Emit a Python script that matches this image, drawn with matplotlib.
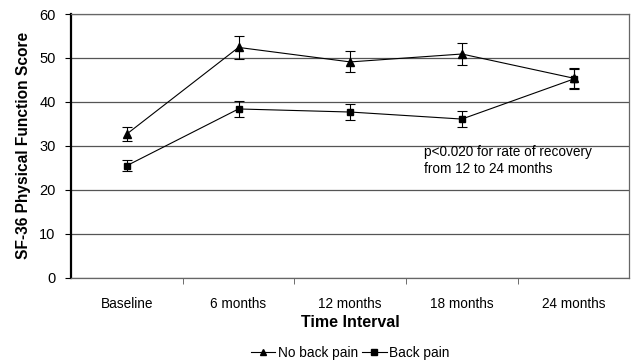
import numpy as np
import matplotlib
matplotlib.use("Agg")
import matplotlib.pyplot as plt
from matplotlib.lines import Line2D

plt.rcParams['font.family'] = ['Liberation Sans', 'DejaVu Sans']

categories = ['Baseline', '6 months', '12 months', '18 months', '24 months']
no_pain = [32.7, 52.4, 49.1, 50.9, 45.4]
no_pain_err = [1.6, 2.6, 2.4, 2.6, 2.3]
pain = [25.5, 38.4, 37.7, 36.1, 45.2]
pain_err = [1.3, 1.9, 1.9, 1.8, 2.2]

fig = plt.figure(figsize=(6.31, 3.64), dpi=100)
ax = fig.add_axes([0.1125, 0.237, 0.885, 0.7245])

x = np.arange(len(categories))

# No back pain / back pain series with error bars
ax.errorbar(x, no_pain, yerr=no_pain_err, color='black', lw=0.8, marker='^', ms=6,
            capsize=3.5, elinewidth=0.8, capthick=0.8, zorder=3)
ax.errorbar(x, pain, yerr=pain_err, color='black', lw=0.8, marker='s', ms=5,
            capsize=3.5, elinewidth=0.8, capthick=0.8, zorder=3)

ax.set_xlim(-0.5, len(categories) - 0.5)
ax.set_ylim(0, 60)
ax.set_yticks(range(0, 61, 10))
ax.set_xticks(x)
ax.set_xticklabels(categories, fontsize=9.8)
ax.set_xticks(np.arange(0.5, len(categories) - 0.5, 1), minor=True)
ax.tick_params(axis='x', which='major', length=0, pad=14)
ax.tick_params(axis='x', which='minor', length=4, color='#555555', direction='out')
ax.tick_params(axis='y', labelsize=10.5, length=4, direction='out', pad=7)

ax.grid(axis='y', color='#555555', lw=0.9, zorder=0)
ax.set_axisbelow(True)

ax.spines['left'].set_linewidth(1.6)
ax.spines['left'].set_color('black')
for s in ['top', 'right', 'bottom']:
    ax.spines[s].set_color('#666666')
    ax.spines[s].set_linewidth(0.9)

ax.set_ylabel('SF-36 Physical Function Score', fontsize=11.2, fontweight='bold', labelpad=6)
ax.set_xlabel('Time Interval', fontsize=11.5, fontweight='bold', labelpad=3)

ax.text(2.66, 26.7, 'p<0.020 for rate of recovery\nfrom 12 to 24 months', fontsize=9.8,
        va='center', ha='left', linespacing=1.25)

handles = [Line2D([], [], color='black', lw=0.8, marker='^', ms=5),
           Line2D([], [], color='black', lw=0.8, marker='s', ms=4)]
fig.legend(handles, ['No back pain', 'Back pain'], loc='center', bbox_to_anchor=(0.555, 0.03),
           ncol=2, frameon=False, fontsize=9.8, handlelength=1.8, handletextpad=0.2,
           columnspacing=0.3)

fig.savefig('out.png', dpi=100)
